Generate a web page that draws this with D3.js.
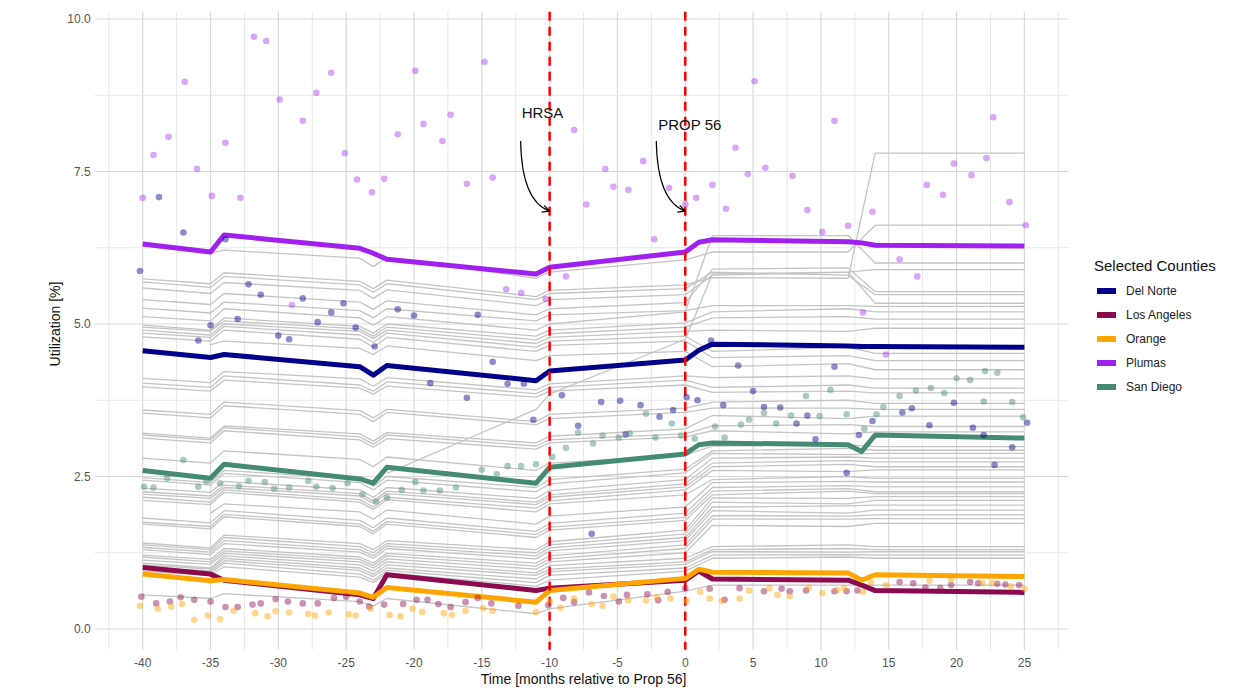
<!DOCTYPE html>
<html>
<head>
<meta charset="utf-8">
<script src="https://cdn.jsdelivr.net/npm/d3@7"></script>
<style>
  body { margin: 0; background: #fff; }
  text { font-family: "Liberation Sans", Arial, sans-serif; }
</style>
</head>
<body>
<svg id="chart" width="1256" height="688"></svg>
<script>
// months where the fitted county lines change slope
const knots = [-40, -35, -34, -24, -23, -22, -11, -10, 0, 1, 2, 12, 13, 14, 25];
const grayKnots = [-40, -35, -34, -24, -23, -22, -11, -10, 0, 2, 12, 14, 25];

const counties = ["Del Norte", "Los Angeles", "Orange", "Plumas", "San Diego"];
const countyColors = ["#00008B", "#8B0A50", "#FFA500", "#A020F0", "#458B74"];

// fitted lines of the selected counties (values at knots)
const delNorteFit = [4.56, 4.45, 4.50, 4.30, 4.16, 4.32, 4.07, 4.23, 4.41, 4.57, 4.67, 4.64, 4.63, 4.63, 4.62];
const losAngelesFit = [1.01, 0.90, 0.80, 0.56, 0.50, 0.89, 0.63, 0.67, 0.80, 0.95, 0.82, 0.80, 0.72, 0.63, 0.60];
const orangeFit = [0.90, 0.79, 0.81, 0.59, 0.52, 0.68, 0.44, 0.63, 0.83, 0.98, 0.93, 0.92, 0.80, 0.89, 0.86];
const plumasFit = [6.31, 6.18, 6.46, 6.24, 6.16, 6.06, 5.82, 5.93, 6.18, 6.34, 6.38, 6.35, 6.33, 6.29, 6.28];
const sanDiegoFit = [2.60, 2.47, 2.70, 2.46, 2.39, 2.65, 2.39, 2.65, 2.87, 3.02, 3.05, 3.02, 2.91, 3.18, 3.13];

// fitted lines of all the other counties (values at grayKnots, null = no data)
const otherCounties = [
  [0.56,0.50,0.58,0.45,0.38,0.50,0.25,0.33,0.62,0.72,0.72,0.72,0.72],
  [0.95,0.88,1.02,0.85,0.76,0.92,0.70,0.80,0.95,1.16,1.18,1.16,1.16],
  [0.98,0.92,1.08,0.90,0.80,0.96,0.76,0.88,1.00,1.21,1.22,1.21,1.21],
  [1.02,0.95,1.12,0.96,0.86,1.00,0.82,0.94,1.06,1.27,1.26,1.27,1.27],
  [1.05,0.98,1.16,1.00,0.90,1.05,0.88,0.98,1.10,1.30,1.32,1.30,1.30],
  [1.08,1.00,1.20,1.05,0.95,1.10,0.92,1.04,1.16,1.35,1.38,1.35,1.35],
  [1.13,1.06,1.24,1.10,1.00,1.15,0.98,1.10,1.25,1.70,1.68,1.73,1.73],
  [1.18,1.10,1.28,1.14,1.04,1.20,1.03,1.15,1.32,1.80,1.80,1.81,1.81],
  [1.21,1.14,1.32,1.18,1.08,1.24,1.08,1.20,1.38,1.86,1.85,1.87,1.87],
  [1.30,1.22,1.40,1.26,1.16,1.32,1.15,1.28,1.45,1.94,1.90,1.95,1.95],
  [1.34,1.26,1.45,1.30,1.20,1.36,1.20,1.33,1.50,2.00,2.02,2.03,2.03],
  [1.38,1.30,1.50,1.35,1.25,1.40,1.25,1.38,1.56,2.08,2.05,2.11,2.11],
  [1.41,1.33,1.54,1.40,1.30,1.45,1.30,1.43,1.62,2.15,2.14,2.17,2.17],
  [1.72,1.64,1.84,1.68,1.56,1.72,1.50,1.62,1.78,2.20,2.26,2.22,2.22],
  [1.75,1.68,1.88,1.72,1.60,1.76,1.55,1.67,1.83,2.26,2.30,2.25,2.25],
  [1.82,1.74,1.94,1.78,1.66,1.82,1.60,1.73,1.90,2.32,2.35,2.33,2.33],
  [null,1.90,2.05,1.92,1.80,1.95,1.72,1.85,2.00,2.40,2.42,2.41,2.41],
  [2.11,2.04,2.24,2.08,1.96,2.12,1.92,2.05,2.20,2.45,2.50,2.47,2.47],
  [2.16,2.08,2.28,2.12,2.00,2.16,1.98,2.10,2.28,2.60,2.58,2.61,2.61],
  [2.21,2.14,2.32,2.18,2.06,2.22,2.04,2.16,2.33,2.66,2.70,2.66,2.66],
  [2.25,2.18,2.36,2.22,2.10,2.26,2.08,2.20,2.38,2.72,2.76,2.74,2.74],
  [2.31,2.24,2.42,2.28,2.16,2.32,2.14,2.27,2.45,2.80,2.82,2.80,2.80],
  [2.44,2.36,2.55,2.40,2.28,2.44,2.25,2.38,2.56,2.88,2.86,2.88,2.88],
  [2.48,2.40,2.60,2.46,2.34,2.50,2.32,2.45,2.62,2.92,2.96,2.93,2.93],
  [2.80,2.72,2.92,2.78,2.66,2.82,2.60,2.72,2.85,3.00,3.02,2.99,2.99],
  [3.13,3.05,3.25,3.10,2.98,3.12,2.95,3.05,3.15,3.25,3.20,3.23,3.23],
  [3.18,3.10,3.30,3.15,3.03,3.18,3.00,3.10,3.20,3.33,3.35,3.32,3.32],
  [3.21,3.13,3.33,3.20,3.08,3.22,3.05,3.16,3.28,3.50,3.45,3.49,3.49],
  [3.54,3.46,3.66,3.52,3.40,3.55,3.35,3.45,3.55,3.62,3.62,3.60,3.60],
  [3.59,3.52,3.72,3.58,3.46,3.60,3.40,3.52,3.62,3.72,3.75,3.70,3.70],
  [3.97,3.90,4.08,3.95,3.85,3.98,3.80,3.90,4.00,3.88,3.90,3.87,3.87],
  [4.03,3.96,4.15,4.00,3.90,4.05,3.86,3.96,4.08,3.96,4.00,3.95,3.95],
  [4.11,4.04,4.22,4.10,3.98,4.12,3.92,4.02,4.15,4.12,4.15,4.10,4.10],
  [null,4.66,4.72,4.60,4.50,4.64,4.40,4.48,4.55,4.30,4.35,4.25,4.25],
  [4.79,4.72,4.90,4.75,4.62,4.78,4.55,4.65,4.72,4.45,4.48,4.40,4.40],
  [4.85,4.78,4.96,4.82,4.70,4.85,4.62,4.72,4.80,4.55,4.62,4.52,4.52],
  [4.90,4.82,5.00,4.88,4.76,4.90,4.68,4.78,4.88,4.90,4.88,4.93,4.93],
  [4.95,4.88,5.05,4.92,4.80,4.95,4.74,4.84,4.95,5.10,5.12,5.08,5.08],
  [4.98,4.90,5.10,4.96,4.85,5.00,4.80,4.90,5.02,5.20,5.25,5.20,5.20],
  [5.12,5.05,5.25,5.10,4.98,5.12,4.90,5.00,5.20,6.45,6.45,6.00,6.00],
  [5.26,5.18,5.36,5.22,5.10,5.25,5.05,5.15,5.22,5.30,5.30,5.29,5.29],
  [5.40,5.32,5.50,5.36,5.24,5.38,5.15,5.25,5.35,5.90,5.92,5.53,5.53],
  [5.59,5.50,5.68,5.55,5.42,5.56,5.30,5.40,5.48,5.80,5.85,5.34,5.34],
  [5.69,5.60,5.78,5.64,5.52,5.66,5.40,5.50,5.58,5.85,5.80,5.48,5.48],
  [5.74,5.66,5.84,5.70,5.58,5.72,5.45,5.55,5.64,5.76,5.75,7.80,7.80],
  [6.28,6.16,6.21,6.08,5.94,6.09,5.75,5.85,6.05,6.18,6.18,6.62,6.62],
  [null,null,null,null,null,2.55,3.60,3.85,4.75,5.82,5.85,5.89,5.89]
];

// monthly observed utilization [month, %]
const delNorteObs = [[-40.2,5.87],[-38.8,7.08],[-37.0,6.50],[-35.9,4.73],[-35.0,4.98],[-33.9,6.39],[-33.0,5.08],[-32.2,5.65],[-31.3,5.48],[-30.0,4.81],[-29.2,4.75],[-28.2,5.42],[-27.1,5.03],[-26.1,5.19],[-25.2,5.34],[-24.3,4.94],[-22.9,4.63],[-21.2,5.24],[-20.0,5.14],[-18.8,4.03],[-16.1,3.79],[-15.3,5.15],[-14.2,4.38],[-13.1,4.02],[-11.9,4.02],[-11.2,3.43],[-9.1,3.83],[-7.9,3.33],[-6.9,1.56],[-6.2,3.72],[-4.8,3.74],[-4.4,3.19],[-3.3,3.67],[-1.9,3.48],[-0.9,3.59],[0.1,3.80],[0.9,3.75],[1.9,4.73],[2.8,3.67],[3.9,4.32],[5.0,3.90],[5.8,3.64],[7.0,3.63],[8.2,3.37],[9.0,3.50],[9.6,3.11],[11.0,4.30],[11.9,2.56],[12.8,3.18],[13.8,3.41],[16.0,3.55],[16.7,3.62],[18.0,3.34],[19.8,3.71],[21.2,3.30],[22.0,3.18],[22.8,2.69],[24.1,2.98],[25.2,3.38]];
const losAngelesObs = [[-40.1,0.53],[-39.0,0.42],[-38.0,0.45],[-37.2,0.52],[-36.2,0.48],[-35.0,0.45],[-33.9,0.36],[-33.0,0.36],[-31.9,0.40],[-31.3,0.42],[-30.2,0.49],[-29.3,0.45],[-28.2,0.42],[-27.1,0.42],[-25.9,0.51],[-25.0,0.53],[-24.0,0.45],[-23.3,0.37],[-22.2,0.40],[-20.8,0.41],[-19.8,0.48],[-19.0,0.48],[-18.2,0.41],[-17.3,0.36],[-16.2,0.44],[-15.3,0.51],[-14.3,0.42],[-12.3,0.38],[-10.1,0.39],[-9.0,0.51],[-8.2,0.44],[-7.1,0.60],[-6.0,0.54],[-4.9,0.45],[-4.3,0.56],[-2.8,0.57],[-2.0,0.47],[-1.3,0.61],[0.0,0.67],[1.8,0.66],[2.9,0.48],[4.0,0.67],[5.8,0.62],[7.1,0.66],[7.7,0.62],[8.9,0.63],[11.0,0.62],[11.9,0.62],[12.7,0.63],[15.8,0.77],[16.8,0.75],[17.7,0.68],[18.8,0.67],[19.6,0.72],[21.0,0.77],[21.6,0.75],[23.0,0.74],[23.6,0.73],[24.6,0.72]];
const orangeObs = [[-40.2,0.38],[-38.9,0.33],[-37.9,0.37],[-37.1,0.41],[-36.2,0.15],[-35.2,0.22],[-34.3,0.16],[-33.3,0.30],[-31.7,0.26],[-30.8,0.21],[-30.2,0.29],[-29.2,0.27],[-27.8,0.25],[-27.3,0.22],[-26.3,0.27],[-24.8,0.24],[-24.3,0.22],[-23.2,0.33],[-21.8,0.23],[-21.0,0.21],[-20.1,0.33],[-19.4,0.28],[-17.8,0.26],[-17.2,0.23],[-16.2,0.30],[-14.9,0.34],[-14.2,0.30],[-11.0,0.28],[-10.0,0.45],[-9.2,0.35],[-8.2,0.50],[-6.9,0.41],[-6.1,0.38],[-5.3,0.53],[-4.2,0.47],[-2.9,0.47],[-2.1,0.52],[-1.1,0.50],[0.1,0.46],[1.1,0.61],[1.8,0.50],[2.7,0.46],[4.0,0.50],[4.7,0.63],[6.2,0.67],[6.8,0.56],[7.7,0.54],[9.1,0.68],[10.1,0.59],[11.2,0.64],[11.7,0.67],[13.1,0.61],[13.7,0.76],[14.8,0.72],[18.0,0.79],[19.6,0.81],[21.9,0.75],[22.6,0.75],[24.0,0.70],[25.0,0.66]];
const plumasObs = [[-40.0,7.07],[-39.2,7.77],[-38.1,8.07],[-36.9,8.97],[-36.0,7.54],[-34.9,7.10],[-33.9,7.97],[-32.8,7.07],[-31.8,9.71],[-30.9,9.64],[-29.9,8.68],[-29.0,5.31],[-28.2,8.33],[-27.2,8.79],[-26.1,9.12],[-25.1,7.80],[-24.2,7.37],[-23.1,7.16],[-22.2,7.38],[-21.2,8.11],[-19.9,9.15],[-19.3,8.28],[-17.9,8.00],[-17.3,8.43],[-16.1,7.30],[-14.8,9.30],[-14.2,7.40],[-13.2,5.57],[-12.1,5.51],[-10.3,5.41],[-8.8,5.78],[-8.2,8.18],[-7.3,6.96],[-5.9,7.54],[-5.3,7.25],[-4.2,7.20],[-3.1,7.67],[-2.3,6.39],[-1.2,7.23],[0.0,6.96],[0.8,7.07],[2.0,7.28],[3.0,6.89],[3.7,7.89],[4.6,7.46],[5.1,8.98],[5.9,7.56],[7.9,7.43],[9.0,6.87],[10.1,6.51],[11.0,8.33],[12.0,6.61],[13.1,5.19],[13.8,6.84],[14.8,4.50],[15.8,6.06],[17.1,5.78],[17.8,7.28],[19.0,7.12],[19.8,7.63],[21.1,7.44],[22.2,7.72],[22.7,8.39],[23.9,7.00],[25.1,6.62]];
const sanDiegoObs = [[-39.9,2.33],[-39.2,2.32],[-38.2,2.47],[-37.0,2.77],[-35.9,2.33],[-35.3,2.42],[-34.3,2.39],[-32.9,2.34],[-32.2,2.43],[-31.0,2.41],[-30.3,2.30],[-29.2,2.32],[-27.8,2.43],[-27.2,2.33],[-26.0,2.31],[-24.9,2.39],[-23.8,2.21],[-22.8,2.09],[-22.0,2.15],[-20.9,2.28],[-19.9,2.41],[-19.3,2.27],[-18.1,2.27],[-16.9,2.32],[-15.0,2.61],[-13.9,2.54],[-13.1,2.67],[-12.1,2.67],[-11.0,2.70],[-9.8,2.82],[-8.8,2.97],[-7.9,3.22],[-6.8,3.04],[-6.1,3.17],[-4.9,3.14],[-4.1,3.21],[-2.9,3.53],[-2.2,3.14],[-1.0,3.37],[-0.3,3.17],[0.7,3.12],[2.2,3.32],[2.9,3.14],[4.1,3.35],[4.7,3.43],[5.8,3.54],[6.7,3.37],[7.8,3.50],[8.9,3.82],[9.9,3.49],[10.7,3.92],[11.9,3.52],[13.2,3.28],[14.1,3.52],[14.6,3.64],[15.8,3.82],[17.0,3.91],[18.1,3.95],[19.1,3.87],[20.0,4.11],[21.0,4.08],[22.0,3.73],[22.1,4.23],[23.0,4.20],[24.1,3.72],[24.9,3.47]];

const fits = [delNorteFit, losAngelesFit, orangeFit, plumasFit, sanDiegoFit];
const observed = [delNorteObs, losAngelesObs, orangeObs, plumasObs, sanDiegoObs];

const xTicks = [-40, -35, -30, -25, -20, -15, -10, -5, 0, 5, 10, 15, 20, 25];
const yTicks = [0, 2.5, 5, 7.5, 10];
const events = [{ month: -10, label: "HRSA" }, { month: 0, label: "PROP 56" }];

const svg = d3.select("#chart");

const x = d3.scaleLinear().domain([-40, 25]).range([142.7, 1024.4]);
const y = d3.scaleLinear().domain([0, 10]).range([629, 19]);

const panelLeft = x(-43.25), panelRight = x(28.25);
const panelTop = y(10.12), panelBottom = y(-0.34);

// grid
const grid = svg.append("g");
grid.selectAll("line.vx")
  .data(d3.range(-42.5, 28.3, 2.5))
  .join("line")
  .attr("x1", d => x(d)).attr("x2", d => x(d))
  .attr("y1", panelTop).attr("y2", panelBottom)
  .attr("stroke", d => d % 5 === 0 ? "#d9d9d9" : "#e8e8e8")
  .attr("stroke-width", d => d % 5 === 0 ? 1.2 : 1);
grid.selectAll("line.hy")
  .data(d3.range(0, 10.01, 1.25))
  .join("line")
  .attr("x1", panelLeft - 4).attr("x2", panelRight)
  .attr("y1", d => y(d)).attr("y2", d => y(d))
  .attr("stroke", d => d % 2.5 === 0 ? "#d9d9d9" : "#e8e8e8")
  .attr("stroke-width", d => d % 2.5 === 0 ? 1.2 : 1);

// axes text
svg.append("g").selectAll("text")
  .data(yTicks)
  .join("text")
  .attr("x", panelLeft - 8)
  .attr("y", d => y(d) + 4)
  .attr("text-anchor", "end")
  .attr("font-size", 12)
  .attr("fill", "#555")
  .text(d => d3.format(".1f")(d));

svg.append("g").selectAll("text")
  .data(xTicks)
  .join("text")
  .attr("x", d => x(d))
  .attr("y", panelBottom + 17)
  .attr("text-anchor", "middle")
  .attr("font-size", 12)
  .attr("fill", "#555")
  .text(d => d);

svg.append("text")
  .attr("x", (panelLeft + panelRight) / 2).attr("y", 684)
  .attr("text-anchor", "middle").attr("font-size", 14).attr("fill", "#111")
  .text("Time [months relative to Prop 56]");

svg.append("text")
  .attr("transform", "translate(60,324) rotate(-90)")
  .attr("text-anchor", "middle").attr("font-size", 14).attr("fill", "#111")
  .text("Utilization [%]");

// other counties
const grayLine = d3.line()
  .defined(d => d[1] !== null)
  .x(d => x(d[0])).y(d => y(d[1]));

svg.append("g").selectAll("path")
  .data(otherCounties)
  .join("path")
  .attr("d", vals => grayLine(vals.map((v, i) => [grayKnots[i], v])))
  .attr("fill", "none")
  .attr("stroke", "#c4c4c4")
  .attr("stroke-width", 1.3)
  .attr("stroke-linejoin", "round");

// selected counties fitted lines
const fitLine = d3.line().x(d => x(d[0])).y(d => y(d[1]));
svg.append("g").selectAll("path")
  .data(fits)
  .join("path")
  .attr("d", vals => fitLine(vals.map((v, i) => [knots[i], v])))
  .attr("fill", "none")
  .attr("stroke", (d, i) => countyColors[i])
  .attr("stroke-width", 5)
  .attr("stroke-linejoin", "round");

// event lines
svg.append("g").selectAll("line")
  .data(events)
  .join("line")
  .attr("x1", d => x(d.month)).attr("x2", d => x(d.month))
  .attr("y1", panelTop).attr("y2", panelBottom)
  .attr("stroke", "#ff0000")
  .attr("stroke-width", 2.5)
  .attr("stroke-dasharray", "9,6");

// observed points
observed.forEach((pts, i) => {
  svg.append("g").selectAll("circle")
    .data(pts)
    .join("circle")
    .attr("cx", d => x(d[0]))
    .attr("cy", d => y(d[1]))
    .attr("r", 3.3)
    .attr("fill", countyColors[i])
    .attr("fill-opacity", i === 3 ? 0.4 : 0.45);
});

// annotations
svg.append("defs").append("marker")
  .attr("id", "arrow")
  .attr("viewBox", "0 0 10 10")
  .attr("refX", 9).attr("refY", 5)
  .attr("markerWidth", 9).attr("markerHeight", 9)
  .attr("markerUnits", "userSpaceOnUse")
  .attr("orient", "auto")
  .append("path")
  .attr("d", "M1,1 L9,5 L1,9")
  .attr("fill", "none")
  .attr("stroke", "#000")
  .attr("stroke-width", 1.3);

const ann = svg.append("g");
events.forEach((e, i) => {
  const ex = x(e.month);
  const ty = i === 0 ? 118 : 130;
  ann.append("text")
    .attr("x", ex - (i === 0 ? 28 : 27))
    .attr("y", ty)
    .attr("font-size", 15)
    .attr("fill", "#111")
    .text(e.label);
  const sx = ex - 29, sy = 141, endY = y(6.85);
  ann.append("path")
    .attr("d", `M${sx},${sy} Q${sx + 1},${endY - 10} ${ex},${endY}`)
    .attr("fill", "none")
    .attr("stroke", "#000")
    .attr("stroke-width", 1.2)
    .attr("marker-end", "url(#arrow)");
});

// legend
const legend = svg.append("g");
legend.append("text")
  .attr("x", 1094).attr("y", 271)
  .attr("font-size", 15).attr("fill", "#111")
  .text("Selected Counties");
counties.forEach((c, i) => {
  const cy = 291 + i * 24;
  legend.append("rect")
    .attr("x", 1097).attr("y", cy - 3)
    .attr("width", 19).attr("height", 6)
    .attr("fill", countyColors[i]);
  legend.append("text")
    .attr("x", 1126).attr("y", cy + 4)
    .attr("font-size", 12).attr("fill", "#222")
    .text(c);
});
</script>
</body>
</html>
